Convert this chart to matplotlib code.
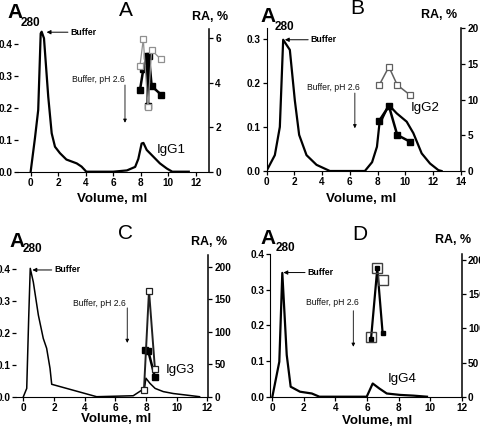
import matplotlib
matplotlib.use("Agg")
import matplotlib.pyplot as plt

plt.rcParams['font.family'] = ['Liberation Sans', 'DejaVu Sans']

# ---------------- data ----------------
A_vol = [0, 0.31, 0.55, 0.73, 0.8, 0.97, 1.28, 1.53, 1.77, 2.13, 2.6, 3.35, 3.7, 4.05, 6.0, 7.0, 7.6, 7.83, 8.07, 8.2, 8.44, 8.92, 9.4, 9.9, 10.3, 11.5]
A_a280 = [0, 0.104, 0.193, 0.432, 0.4375, 0.417, 0.234, 0.12, 0.078, 0.058, 0.038, 0.026, 0.016, 0, 0, 0.004, 0.015, 0.04, 0.088, 0.09, 0.068, 0.047, 0.026, 0.01, 0, 0]
A_open_vol = [7.95, 8.19, 8.53, 8.8, 9.45]
A_open_ra = [4.77, 5.96, 2.91, 5.47, 5.07]
A_fill_vol = [7.95, 8.19, 8.45, 8.53, 8.6, 8.8, 9.48]
A_fill_ra = [3.67, 4.6, 5.22, 2.95, 5.22, 3.85, 3.47]

B_vol = [0, 0.6, 0.96, 1.2, 1.68, 2.04, 2.35, 2.88, 3.6, 4.56, 7.08, 7.6, 7.95, 8.12, 8.8, 9.37, 10.09, 10.57, 11.17, 11.77, 12.37, 12.6]
B_a280 = [0, 0.036, 0.1, 0.298, 0.275, 0.16, 0.082, 0.036, 0.014, 0, 0, 0.02, 0.055, 0.105, 0.15, 0.131, 0.112, 0.086, 0.04, 0.017, 0.002, 0]
B_open_vol = [8.12, 8.81, 9.41, 10.33]
B_open_ra = [12.06, 14.6, 12.06, 10.65]
B_fill_vol = [8.12, 8.81, 9.41, 10.33]
B_fill_ra = [7.06, 9.11, 5.05, 4.11]

C_vol = [0, 0.22, 0.35, 0.45, 0.65, 0.98, 1.3, 1.52, 1.74, 1.85, 4.78, 7.17, 7.9, 8.0, 8.26, 8.6, 9.13, 9.78, 10.65, 11.5]
C_a280 = [0, 0.026, 0.25, 0.403, 0.36, 0.256, 0.183, 0.152, 0.089, 0.039, 0, 0.003, 0.026, 0.058, 0.042, 0.026, 0.016, 0.01, 0.005, 0]
C_open_vol = [7.87, 8.2, 8.59]
C_open_ra = [10.3, 163, 42]
C_fill_vol = [7.94, 8.15, 8.59]
C_fill_ra = [71.8, 70.3, 29.7]

D_vol = [0, 0.44, 0.63, 0.91, 1.16, 1.75, 2.5, 2.98, 5.98, 6.36, 6.78, 7.25, 8.1, 8.94, 9.8]
D_a280 = [0, 0.098, 0.347, 0.117, 0.028, 0.014, 0.009, 0, 0, 0.037, 0.023, 0.009, 0.005, 0.003, 0]
D_open_vol = [6.25, 6.65, 7.04]
D_open_ra = [87.8, 187.8, 170.7]
D_fill_vol = [6.25, 6.65, 6.99]
D_fill_ra = [83.9, 187.8, 92.7]

W, H = 480, 429
fig = plt.figure(figsize=(W / 100, H / 100), dpi=100)


def rect(x0, x1, y0, y1):
    return [x0 / W, 1 - y1 / H, (x1 - x0) / W, (y1 - y0) / H]


def ftext(x, y, s, **kw):
    fig.text(x / W, 1 - y / H, s, **kw)


panels = [
    dict(name='A', r=(18, 209, 29, 171.7), xlim=(-0.92, 12.97), yl=(0, 0.446), yr=(0, 6.42),
         xt=range(0, 13, 2), ytl=[0, 0.1, 0.2, 0.3, 0.4], ytr=[0, 2, 4, 6],
         vol=A_vol, a=A_a280, ov=A_open_vol, orr=A_open_ra, fv=A_fill_vol, fr=A_fill_ra,
         buf=((2.71, 0.436), (1.16, 0.436)), ph=((6.86, 0.271), (6.86, 0.153)), phtxt=(4.93, 0.287),
         igg=('IgG1', 9.19, 0.068), left_spine=False, lw=1.6, ms=4.2, oc='#909090', olw=0.9,
         title=(126, 10), a280=(7, 18, 21, 26), ra=(210, 17), vol_lbl=(112, 199)),
    dict(name='B', r=(266.5, 461, 28.3, 171), xlim=(0, 14), yl=(0, 0.324), yr=(0, 20),
         xt=range(0, 15, 2), ytl=[0, 0.1, 0.2, 0.3], ytr=[0, 5, 10, 15, 20],
         vol=B_vol, a=B_a280, ov=B_open_vol, orr=B_open_ra, fv=B_fill_vol, fr=B_fill_ra,
         buf=((3.0, 0.298), (1.32, 0.298)), ph=((6.36, 0.177), (6.36, 0.097)), phtxt=(4.78, 0.19),
         igg=('IgG2', 10.37, 0.1425), left_spine=True, lw=1.6, ms=4.2, oc='#606060', olw=1.1,
         title=(357.5, 9), a280=(260.7, 21.7, 275, 29.5), ra=(439, 15), vol_lbl=(361, 199)),
    dict(name='C', r=(16, 208, 255, 396.7), xlim=(-0.48, 12.05), yl=(0, 0.445), yr=(0, 218),
         xt=range(0, 13, 2), ytl=[0, 0.1, 0.2, 0.3, 0.4], ytr=[0, 50, 100, 150, 200],
         vol=C_vol, a=C_a280, ov=C_open_vol, orr=C_open_ra, fv=C_fill_vol, fr=C_fill_ra,
         buf=((1.85, 0.398), (0.59, 0.398)), ph=((6.78, 0.279), (6.78, 0.169)), phtxt=(4.94, 0.294),
         igg=('IgG3', 9.29, 0.084), left_spine=False, lw=1.1, ms=4.5, oc='#202020', olw=1.4,
         title=(125.5, 233), a280=(9, 247, 23, 252.5), ra=(209, 242), vol_lbl=(116, 419.5)),
    dict(name='D', r=(270, 461.7, 254, 396.7), xlim=(-0.15, 12), yl=(0, 0.4), yr=(0, 209),
         xt=range(0, 13, 2), ytl=[0, 0.1, 0.2, 0.3, 0.4], ytr=[0, 50, 100, 150, 200],
         vol=D_vol, a=D_a280, ov=D_open_vol, orr=D_open_ra, fv=D_fill_vol, fr=D_fill_ra,
         buf=((2.07, 0.348), (0.7, 0.348)), ph=((5.13, 0.241), (5.13, 0.14)), phtxt=(3.81, 0.263),
         igg=('IgG4', 7.31, 0.049), left_spine=True, lw=1.6, ms=3.3, oc='#404040', olw=1.2,
         title=(359.7, 235), a280=(260.7, 244.3, 276, 251), ra=(453, 240), vol_lbl=(377.5, 421.5)),
]

tick_font = dict(fontsize=7.2, fontweight='bold')

for p in panels:
    ax = fig.add_axes(rect(*p['r']))
    ax.plot(p['vol'], p['a'], color='black', lw=p['lw'], zorder=3)
    ax.set_xlim(*p['xlim'])
    ax.set_ylim(*p['yl'])
    ax.set_xticks(list(p['xt']))
    ax.set_yticks(p['ytl'])
    ax.set_xticklabels([str(v) for v in p['xt']], **tick_font)
    ax.set_yticklabels(['%.1f' % v for v in p['ytl']], **tick_font)
    ax.spines['top'].set_visible(False)
    ax.spines['right'].set_visible(False)
    ax.spines['left'].set_visible(p['left_spine'])
    ax.tick_params(direction='out', length=3, width=0.9, pad=1.2)
    ax.patch.set_alpha(0)

    ax2 = ax.twinx()
    ax2.set_ylim(*p['yr'])
    ax2.set_yticks(p['ytr'])
    ax2.set_yticklabels([str(v) for v in p['ytr']], **tick_font)
    for s in ['top', 'left', 'bottom']:
        ax2.spines[s].set_visible(False)
    ax2.spines['right'].set_linewidth(1.1)
    ax2.tick_params(direction='out', length=3, width=0.9, pad=1.5)

    if p['name'] == 'D':
        ax2.plot(p['fv'], p['fr'], color='black', lw=1.6, marker='s', ms=p['ms'],
                 mfc='black', mec='black', zorder=3)
        ax2.plot(p['ov'], p['orr'], ls='none', marker='s', ms=7.5, mfc='none',
                 mec=p['oc'], mew=1.0, zorder=4)
    else:
        ax2.plot(p['fv'], p['fr'], color='black', lw=1.8, marker='s', ms=p['ms'],
                 mfc='black', mec='black', zorder=3)
        ax2.plot(p['ov'], p['orr'], color=p['oc'], lw=p['olw'], marker='s', ms=p['ms'] + 0.4,
                 mfc='white', mec=p['oc'], mew=0.9, zorder=4)

    # annotations
    (tx, ty), (hx, hy) = p['buf']
    ax.annotate('', xy=(hx, hy), xytext=(tx, ty),
                arrowprops=dict(arrowstyle='-|>', color='black', lw=0.7,
                                mutation_scale=6, shrinkA=0, shrinkB=0))
    ax.text(tx + 0.15, ty, 'Buffer', fontsize=6.3, fontweight='bold', va='center', ha='left')
    (tx, ty), (hx, hy) = p['ph']
    ax.annotate('', xy=(hx, hy), xytext=(tx, ty),
                arrowprops=dict(arrowstyle='-|>', color='black', lw=0.6,
                                mutation_scale=5, shrinkA=0, shrinkB=0))
    ax.text(p['phtxt'][0], p['phtxt'][1], 'Buffer, pH 2.6', fontsize=6.2,
            va='center', ha='center', color='#111111')
    name, gx, gy = p['igg']
    ax.text(gx, gy, name, fontsize=9.6, va='center', ha='left')

    # labels in figure pixels
    ftext(p['title'][0], p['title'][1], p['name'], fontsize=15, ha='center', va='center')
    ax0, ay0, ax1, ay1 = p['a280']
    ftext(ax0, ay0, 'A', fontsize=15, fontweight='bold', ha='left', va='baseline')
    ftext(ax1, ay1, '280', fontsize=8.5, fontweight='bold', ha='left', va='baseline')
    ftext(p['ra'][0], p['ra'][1], 'RA, %', fontsize=9, fontweight='bold', ha='center', va='center')
    ftext(p['vol_lbl'][0], p['vol_lbl'][1], 'Volume, ml', fontsize=9.6, fontweight='bold',
          ha='center', va='center')

fig.savefig('out.png', dpi=100)
